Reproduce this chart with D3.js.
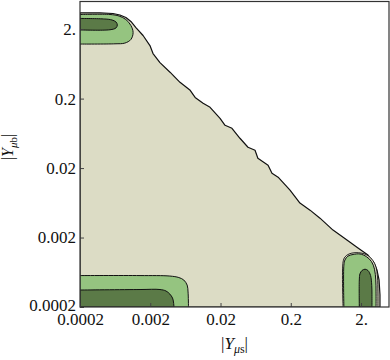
<!DOCTYPE html>
<html><head><meta charset="utf-8">
<script src="https://cdn.jsdelivr.net/npm/d3@7"></script>
<style>
html,body{margin:0;padding:0;background:#fff;}
svg{display:block;}
svg text{font-family:"Liberation Serif","Times New Roman",Times,serif !important;}
</style>
</head><body>
<svg id="c" width="390" height="360"></svg>
<script>
// ---- axis data ----
const xDomain = [0.0002, 5];
const yDomain = [0.0002, 5];
const xTickValues = [0.0002, 0.002, 0.02, 0.2, 2];
const xTickLabels = ["0.0002", "0.002", "0.02", "0.2", "2."];
const yTickValues = [0.0002, 0.002, 0.02, 0.2, 2];
const yTickLabels = ["0.0002", "0.002", "0.02", "0.2", "2."];

// ---- contour boundaries, [|Y_mu s|, |Y_mu b|] ----
// lowest level (beige) region boundary
const outerRegion = [[2e-4,3.44],[3.85e-4,3.44],[5.9e-4,3.36],[7.4e-4,3.2],[9.0e-4,2.94],[1.06e-3,2.58],
  [1.25e-3,2.11],[1.58e-3,1.62],[1.98e-3,1.16],[2.19e-3,0.89],[2.75e-3,0.66],[3.82e-3,0.48],[5.3e-3,0.343],
  [7.4e-3,0.263],[8.7e-3,0.208],[1.13e-2,0.171],[1.42e-2,0.150],[1.97e-2,0.104],[2.32e-2,0.0826],
  [2.91e-2,0.0748],[3.78e-2,0.0537],[4.92e-2,0.0399],[6.2e-2,0.0361],[6.8e-2,0.0277],[9.5e-2,0.022],
  [0.108,0.0169],[0.132,0.0148],[0.195,0.0096],[0.270,0.00626],[0.376,0.00496],[0.521,0.0038],
  [0.798,0.00256],[1.26,1.84e-3],[1.81,1.41e-3],[2.51,1.12e-3],[3.06,8.6e-4],[3.37,6.8e-4],
  [3.61,4.9e-4],[3.72,3.0e-4],[3.72,2e-4]];
// intermediate level (bottom right)
const bandBottomRight = [[1.11,2e-4],[1.11,8.9e-4],[1.18,1.05e-3],[1.35,1.16e-3],[1.64,1.21e-3],[2.06,1.19e-3],
  [2.51,1.10e-3],[2.96,9.3e-4],[3.27,7.5e-4],[3.43,5.4e-4],[3.48,3.3e-4],[3.48,2e-4]];
// light green level
const lightTopLeft = [[2e-4,3.25],[5.35e-4,3.25],[7.2e-4,3.09],[9.0e-4,2.75],[1.06e-3,2.26],[1.14e-3,1.79],
  [1.06e-3,1.42],[8.7e-4,1.26],[6.3e-4,1.23],[2e-4,1.22]];
const lightBottomLeft = [[2e-4,5.67e-4],[1.43e-3,5.67e-4],[3.8e-3,5.58e-4],[5.1e-3,5.31e-4],[6.0e-3,4.89e-4],
  [6.7e-3,4.14e-4],[6.9e-3,3.29e-4],[7.0e-3,2e-4]];
const lightBottomRight = [[1.14,2e-4],[1.14,8.0e-4],[1.18,9.5e-4],[1.30,1.08e-3],[1.54,1.14e-3],[1.93,1.16e-3],
  [2.39,1.06e-3],[2.82,9.0e-4],[3.11,7.0e-4],[3.24,4.9e-4],[3.27,3.3e-4],[3.27,2e-4]];
// dark green level
const darkTopLeft = [[2e-4,2.85],[4.5e-4,2.80],[5.7e-4,2.71],[6.5e-4,2.54],[6.8e-4,2.30],[6.5e-4,2.08],
  [5.35e-4,1.96],[2e-4,1.95]];
const darkBottomLeft = [[2e-4,3.51e-4],[1.43e-3,3.57e-4],[2.75e-3,3.57e-4],[3.35e-3,3.40e-4],[3.8e-3,3.07e-4],
  [4.15e-3,2.69e-4],[4.28e-3,2.36e-4],[4.35e-3,2e-4]];
const darkBottomRight = [[1.89,2e-4],[1.89,4.9e-4],[1.93,6.0e-4],[2.06,6.7e-4],[2.28,7.0e-4],[2.51,6.7e-4],
  [2.73,5.7e-4],[2.84,4.1e-4],[2.86,3.0e-4],[2.86,2e-4]];

// ---- drawing ----
const FONT = '"Liberation Serif","Times New Roman",Times,serif';
const W = 390, H = 360;
const M = {left: 80, right: 1, top: 1.5, bottom: 53};
const svg = d3.select("#c").attr("font-family", FONT);
const x = d3.scaleLog().domain(xDomain).range([M.left, W - M.right]);
const y = d3.scaleLog().domain(yDomain).range([H - M.bottom, M.top]);

const BEIGE = "#dcdcc5", LIGHT = "#95c480", DARK = "#5b7a47";

svg.append("defs").append("clipPath").attr("id", "plotclip")
  .append("rect").attr("x", x(xDomain[0])).attr("y", y(yDomain[1]))
  .attr("width", x(xDomain[1]) - x(xDomain[0])).attr("height", y(yDomain[0]) - y(yDomain[1]));

const plot = svg.append("g").attr("clip-path", "url(#plotclip)");

function regionPath(pts, curve, viaCorner) {
  const line = d3.line().x(d => x(d[0])).y(d => y(d[1])).curve(curve);
  let p = line(pts);
  if (viaCorner) p += "L" + x(xDomain[0]) + "," + y(yDomain[0]);
  return p + "Z";
}
const smooth = d3.curveCatmullRom.alpha(0.5);

const regions = [
  {pts: outerRegion, fill: BEIGE, curve: d3.curveLinear, corner: true, sw: 1.2},
  {pts: bandBottomRight, fill: BEIGE, curve: smooth, corner: false, sw: 0.9},
  {pts: lightTopLeft, fill: LIGHT, curve: smooth, corner: false, sw: 1},
  {pts: lightBottomLeft, fill: LIGHT, curve: smooth, corner: true, sw: 1},
  {pts: lightBottomRight, fill: LIGHT, curve: smooth, corner: false, sw: 1},
  {pts: darkTopLeft, fill: DARK, curve: smooth, corner: false, sw: 1},
  {pts: darkBottomLeft, fill: DARK, curve: smooth, corner: true, sw: 1},
  {pts: darkBottomRight, fill: DARK, curve: smooth, corner: false, sw: 1}
];

plot.selectAll("path.region").data(regions).join("path")
  .attr("class", "region")
  .attr("d", d => regionPath(d.pts, d.curve, d.corner))
  .attr("fill", d => d.fill)
  .attr("stroke", "#111")
  .attr("stroke-width", d => d.sw)
  .attr("stroke-linejoin", "round");

// axes (inward ticks)
const xAxis = d3.axisBottom(x).tickValues(xTickValues)
  .tickFormat((d, i) => xTickLabels[i]).tickSizeInner(-4).tickSizeOuter(0).tickPadding(6);
const yAxis = d3.axisLeft(y).tickValues(yTickValues)
  .tickFormat((d, i) => yTickLabels[i]).tickSizeInner(-4).tickSizeOuter(0).tickPadding(4);

const gx = svg.append("g").attr("transform", `translate(0,${y(yDomain[0])})`).call(xAxis);
const gy = svg.append("g").attr("transform", `translate(${x(xDomain[0])},0)`).call(yAxis);
[gx, gy].forEach(g => {
  g.attr("font-family", FONT).attr("font-size", 17);
  g.select(".domain").remove();
  g.selectAll(".tick line").attr("stroke", "#444").attr("stroke-width", 1);
  g.selectAll(".tick text").attr("fill", "#111");
});
// lift the lowest y label slightly so it sits above the x label (as in the reference)
gy.selectAll(".tick text").filter((d, i) => i === 0).attr("dy", "0.2em");

// frame
svg.append("rect")
  .attr("x", x(xDomain[0])).attr("y", y(yDomain[1]))
  .attr("width", x(xDomain[1]) - x(xDomain[0])).attr("height", y(yDomain[0]) - y(yDomain[1]))
  .attr("fill", "none").attr("stroke", "#333").attr("stroke-width", 1.2);

// axis titles
const xTitle = svg.append("text")
  .attr("x", (x(xDomain[0]) + x(xDomain[1])) / 2).attr("y", 349)
  .attr("text-anchor", "middle").attr("font-size", 17).attr("fill", "#111");
xTitle.append("tspan").text("|");
xTitle.append("tspan").attr("font-style", "italic").text("Y");
xTitle.append("tspan").attr("dy", 4).attr("font-size", 12).attr("font-style", "italic").text("μ");
xTitle.append("tspan").attr("font-size", 12).text("s");
xTitle.append("tspan").attr("dy", -4).text("|");

const yTitle = svg.append("text")
  .attr("transform", `translate(13,147) rotate(-90)`)
  .attr("text-anchor", "middle").attr("font-size", 16).attr("fill", "#111");
yTitle.append("tspan").text("|");
yTitle.append("tspan").attr("font-style", "italic").text("Y");
yTitle.append("tspan").attr("dy", 4).attr("font-size", 11).attr("font-style", "italic").text("μ");
yTitle.append("tspan").attr("font-size", 11).text("b");
yTitle.append("tspan").attr("dy", -4).text("|");
</script>
</body></html>
